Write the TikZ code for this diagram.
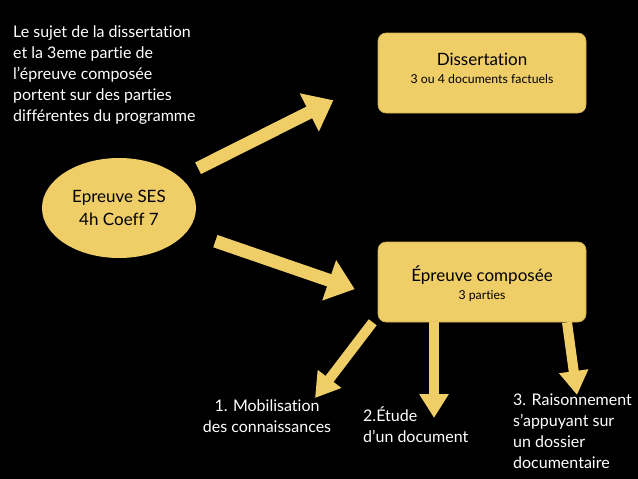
\documentclass[tikz,border=0pt]{standalone}
\usepackage{fontspec}
\setmainfont{Lato}[RawFeature=-liga]
\usepackage{xcolor}
\usetikzlibrary{arrows.meta,positioning,shapes.geometric}

\definecolor{sesyellow}{RGB}{239,206,104}
\definecolor{sesedge}{RGB}{205,172,80}

\newcommand{\boxtext}[3]{\raisebox{#1}[0pt][0pt]{\fontsize{12.3}{15}\selectfont
  \begin{tabular}{@{}c@{}}{\fontsize{17}{19}\selectfont #2}\\[3pt] #3\end{tabular}}}

\begin{document}
\begin{tikzpicture}[
    x=1pt, y=-1pt,
    box/.style={draw=sesedge, line width=0.6pt, fill=sesyellow, rounded corners=8pt,
                minimum width=208pt, minimum height=80pt, inner sep=0pt, text=black},
    oval/.style={ellipse, fill=sesyellow, align=center, minimum width=154pt, minimum height=100pt,
                 inner sep=0pt, text=black, font=\fontsize{17}{23}\selectfont},
    label/.style={text=white, inner sep=0pt, font=\fontsize{16}{21}\selectfont},
    bigarrow/.style={draw=sesyellow, line width=13pt, -{Triangle[length=27pt, width=41pt]}},
    smallarrow/.style={draw=sesyellow, line width=10pt, -{Triangle[length=24pt, width=28pt]}}
]
\fill[black] (0,0) rectangle (638,479);
\useasboundingbox (0,0) rectangle (638,479);

\node[oval] (ses) at (119,208) {Epreuve SES\\4h Coeff 7};
\node[box] (diss) at (482,73) {\boxtext{-0.5pt}{Dissertation}{3 ou 4 documents factuels}};
\node[box] (comp) at (482,282) {\boxtext{-5.5pt}{Épreuve composée}{3 parties}};

\node[label, anchor=north west, align=left] (note) at (13,26)
    {Le sujet de la dissertation\\et la 3eme partie de\\l'épreuve composée\\portent sur des parties\\différentes du programme};
\node[label, align=center] (mob) at (267,416) {1. Mobilisation\\des connaissances};
\node[label, align=left, anchor=west] (etude) at (363,425) {2.Étude\\d'un document};
\node[label, align=left, anchor=west] (rais) at (513,431) {3. Raisonnement\\s'appuyant sur\\un dossier\\documentaire};

\coordinate (mob tip) at (315,398);
\coordinate (etude tip) at (434,418);
\coordinate (rais tip) at (577,395);

\draw[bigarrow, shorten <=88.5pt, shorten >=49.6pt] (ses.center) -- ([yshift=-5pt]diss.west);
\draw[bigarrow, shorten <=101.9pt, shorten >=24.3pt] (ses.center) -- ([yshift=-15pt]comp.west);
\draw[smallarrow] ([xshift=-5pt]comp.south west) -- (mob tip);
\draw[smallarrow] ([xshift=-48pt]comp.south) -- (etude tip);
\draw[smallarrow] ([xshift=85pt]comp.south) -- (rais tip);
\end{tikzpicture}
\end{document}
